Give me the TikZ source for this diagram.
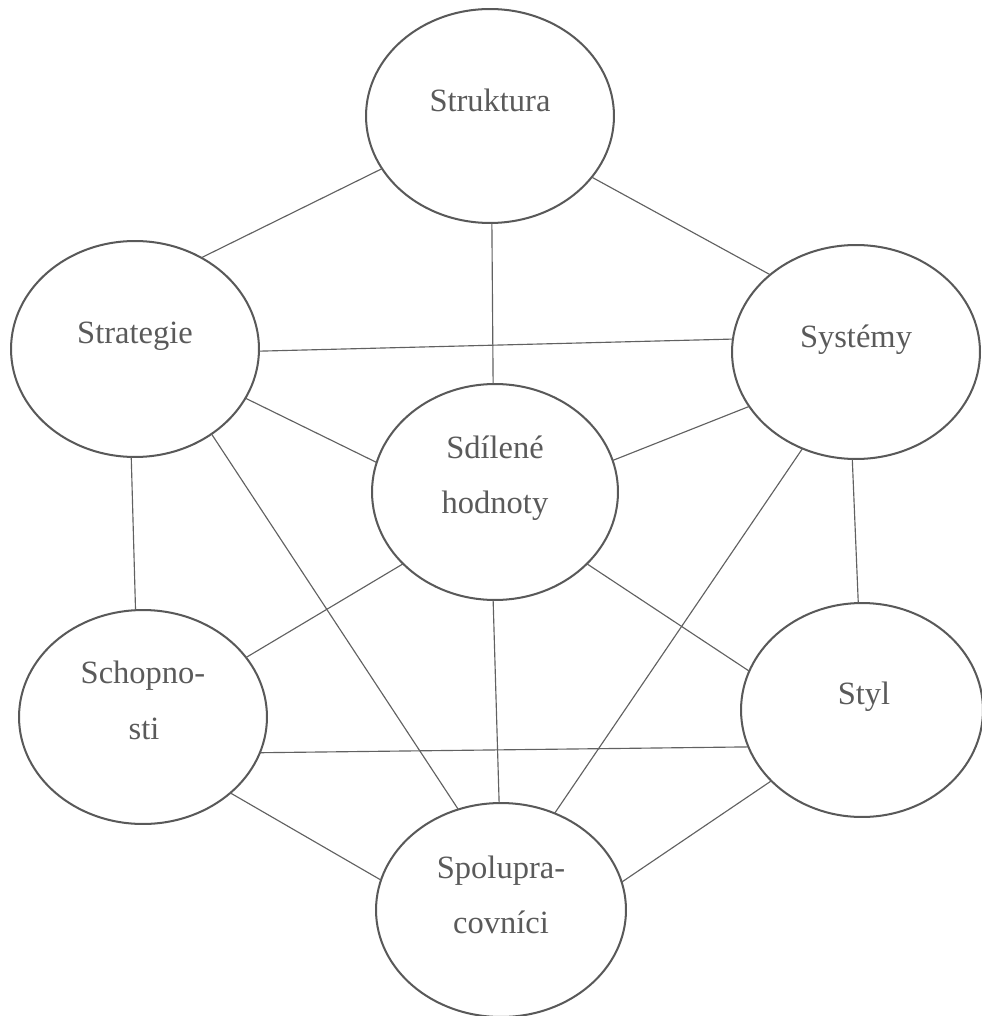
\documentclass[tikz,border=0pt]{standalone}
\usepackage{fontspec}
\setmainfont{Liberation Serif}
\usetikzlibrary{shapes.geometric}
\definecolor{rim}{HTML}{595959}
\definecolor{wirecol}{HTML}{616161}
\definecolor{ink}{HTML}{5A5A5A}
\begin{document}
\begin{tikzpicture}[x=0.02cm,y=-0.02cm,
  blob/.style={ellipse,draw=rim,line width=1.15pt,inner sep=0pt,outer sep=0pt,
    minimum width=4.96cm,minimum height=4.28cm},
  wire/.style={draw=wirecol,line width=0.65pt},
  word/.style={anchor=base,inner sep=0pt,text=ink,font=\fontsize{18.5}{22}\selectfont}]
\path[use as bounding box] (0,0) rectangle (982,1016);

% the seven elements
\node[blob] (stru)  at (490,116) {};
\node[blob,minimum height=4.32cm] (strat) at (135,349) {};
\node[blob] (sys)   at (856,352) {};
\node[blob,minimum width=4.92cm,minimum height=4.32cm] (sdil)  at (495,492) {};
\node[blob] (schop) at (143,717) {};
\node[blob,minimum width=4.84cm] (styl)  at (862,710) {};
\node[blob,minimum width=5.0cm] (spol)  at (501,910) {};

% labels
\node[word] (tstru)   at (490,112) {Struktura};
\node[word] (tstrat)  at (135,343) {Strategie};
\node[word] (tsys)    at (856,347) {Systémy};
\node[word] (tsdila)  at (495,458) {Sdílené};
\node[word] (tsdilb)  at (495,513) {hodnoty};
\node[word] (tschopa) at (143,683) {Schopno-};
\node[word] (tschopb) at (144,739) {sti};
\node[word] (tstyl)   at (864,704) {Styl};
\node[word] (tspola)  at (501,878) {Spolupra-};
\node[word] (tspolb)  at (501,933) {covníci};

% connections between the elements
\draw[wire] (stru.206.6) -- (strat.54.5);
\draw[wire] (stru.329.1) -- (sys.138.5);
\draw[wire] (stru.271.6) -- (sdil.91.1);
\draw[wire] (strat.359.1) -- (sys.174);
\draw[wire] (strat.336.1) -- (sdil.166.8);
\draw[wire] (strat.268) -- (schop.94.3);
\draw[wire] (strat.312) -- (spol.113.6);
\draw[wire] (sys.207.4) -- (sdil.15.6);
\draw[wire] (sys.268) -- (styl.92.7);
\draw[wire] (sys.241.1) -- (spol.61.4);
\draw[wire] (sdil.218.2) -- (schop.30.2);
\draw[wire] (sdil.322.7) -- (styl.161.7);
\draw[wire] (sdil.269) -- (spol.91);
\draw[wire] (schop.343.2) -- (styl.198.4);
\draw[wire] (schop.319.1) -- (spol.166.3);
\draw[wire] (styl.218.8) -- (spol.13.4);
\end{tikzpicture}
\end{document}
